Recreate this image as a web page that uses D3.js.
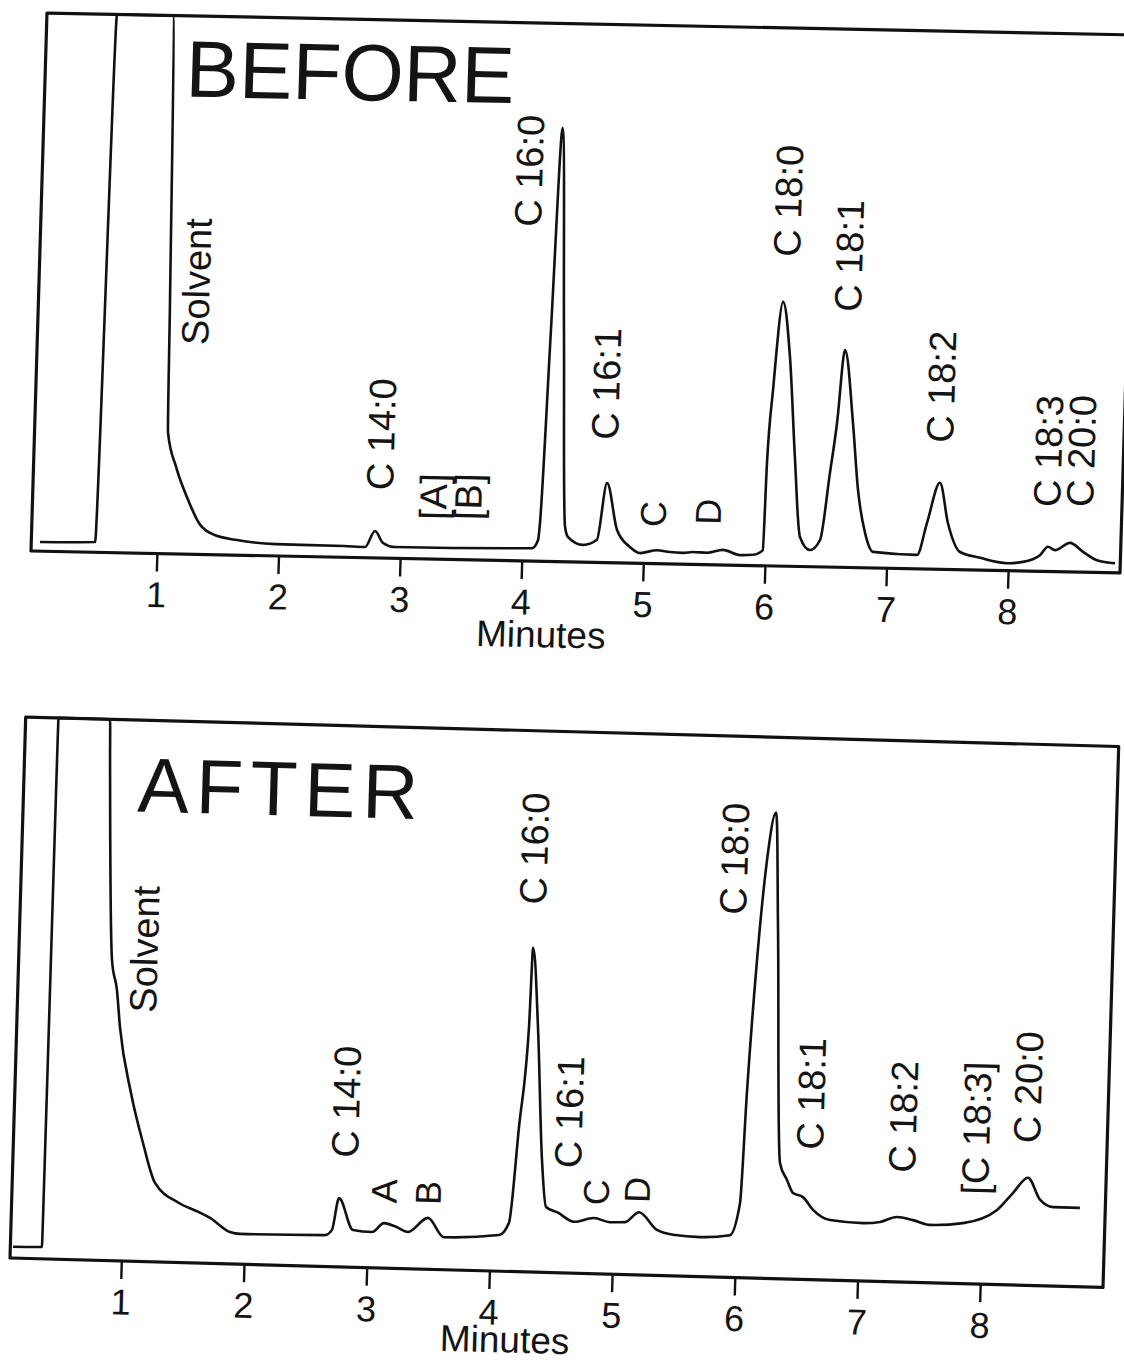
<!DOCTYPE html>
<html>
<head>
<meta charset="utf-8">
<script src="https://cdn.jsdelivr.net/npm/d3@7/dist/d3.min.js"></script>
<style>
  body { margin: 0; background: #fff; }
  text { font-family: "Liberation Sans", Arial, sans-serif; fill: #141414; }
</style>
</head>
<body>
<div id="chart"></div>
<script>
////////////////////////////////////////////////////////////////////////
// Data (time in minutes, signal in % of
// full scale, 100 = pen at top of the chart paper)

let ticks = [1, 2, 3, 4, 5, 6, 7, 8];

let beforeTime = [0.036, 0.49, 0.54, 1.00, 1.046, 1.062, 1.136, 1.243, 1.339, 1.465,
  1.655, 1.976, 2.536, 2.709, 2.787, 2.856, 2.947, 4.081, 4.129, 4.141,
  4.184, 4.23, 4.291, 4.348, 4.375, 4.50, 4.613, 4.682, 4.776, 4.886,
  4.97, 5.109, 5.216, 5.324, 5.405, 5.521, 5.652, 5.793, 5.90, 5.98,
  5.992, 6.024, 6.085, 6.155, 6.22, 6.281, 6.367, 6.447, 6.512, 6.558,
  6.605, 6.689, 6.747, 6.815, 6.885, 7.248, 7.322, 7.418, 7.494, 7.60,
  7.766, 7.989, 8.12, 8.258, 8.322, 8.38, 8.502, 8.611, 8.728, 8.877];
let beforeSignal = [1.7, 1.9, 100, 100, 47.2, 22.5, 16.2, 10.1, 5.8, 3.7,
  2.8, 2.2, 2.1, 2.0, 5.0, 2.8, 2.1, 2.4, 3.9, 7.1,
  43.0, 80.6, 43.1, 6.5, 4.6, 3.2, 4.2, 14.8, 6.1, 3.0,
  1.9, 2.5, 2.2, 2.1, 2.3, 2.2, 2.8, 1.9, 2.0, 2.9,
  19.1, 32.7, 49.1, 38.9, 20.3, 5.5, 3.1, 5.0, 17.5, 26.8,
  40.4, 26.9, 14.4, 6.5, 3.0, 2.6, 8.6, 16.1, 8.6, 3.3,
  2.3, 1.4, 1.7, 3.0, 4.6, 4.0, 5.4, 3.8, 2.3, 1.8];

let afterTime = [0.115, 0.351, 0.36, 0.78, 0.79, 0.853, 0.90, 0.934, 1.039, 1.149,
  1.256, 1.456, 1.621, 1.712, 1.878, 1.96, 2.653, 2.708, 2.758, 2.879,
  3.035, 3.13, 3.229, 3.328, 3.487, 3.622, 4.07, 4.148, 4.207, 4.265,
  4.279, 4.338, 4.402, 4.446, 4.545, 4.677, 4.839, 4.97, 5.093, 5.205,
  5.355, 5.487, 5.707, 5.95, 6.025, 6.055, 6.106, 6.164, 6.226, 6.269,
  6.341, 6.402, 6.454, 6.536, 6.621, 6.762, 7.03, 7.17, 7.306, 7.437,
  7.577, 7.845, 8.12, 8.245, 8.364, 8.467, 8.575, 8.794];
let afterSignal = [2.1, 2.2, 100, 100, 92.5, 55.6, 50.1, 43.2, 31.1, 21.9,
  14.6, 11.0, 9.4, 8.4, 5.9, 5.6, 5.8, 6.8, 12.7, 6.9,
  6.6, 8.3, 7.7, 6.8, 9.5, 6.0, 6.7, 9.0, 26.7, 45.3,
  59.9, 45.3, 20.8, 12.1, 11.1, 9.5, 10.3, 9.6, 9.7, 11.6,
  8.4, 7.6, 7.3, 7.8, 13.8, 34.2, 58.8, 77.3, 86.1, 65.0,
  21.4, 18.3, 15.9, 15.2, 12.9, 11.1, 10.7, 11.0, 12.0, 11.5,
  10.7, 11.2, 13.8, 17.0, 19.9, 15.9, 14.6, 14.6];

// peak labels: text, time under the label, signal level where the text starts
let beforeLabelText = ["Solvent", "C 14:0", "[A]", "[B]", "C 16:0", "C 16:1", "C", "D",
  "C 18:0", "C 18:1", "C 18:2", "C 18:3", "C 20:0"];
let beforeLabelTime = [1.262, 2.818, 3.26, 3.549, 3.97, 4.655, 5.07, 5.522,
  6.106, 6.62, 7.41, 8.305, 8.576];
let beforeLabelLevel = [38.9, 12.6, 7.3, 7.4, 62.1, 22.8, 6.8, 7.4,
  57.5, 47.5, 23.5, 12.0, 12.1];

let afterLabelText = ["Solvent", "C 14:0", "A", "B", "C 16:0", "C 16:1", "C", "D",
  "C 18:0", "C 18:1", "C 18:2", "[C 18:3]", "C 20:0"];
let afterLabelTime = [1.118, 2.797, 3.126, 3.484, 4.269, 4.616, 4.853, 5.186,
  5.9, 6.582, 7.337, 7.936, 8.348];
let afterLabelLevel = [46.0, 20.2, 12.0, 11.9, 67.9, 19.4, 12.7, 13.3,
  67.0, 24.0, 20.2, 16.5, 26.3];

////////////////////////////////////////////////////////////////////////
// svg canvas
let width = 1124;
let height = 1365;

let svg = d3.select("#chart")
  .append("svg")
  .attr("width", width).attr("height", height);

// the scan is slightly skewed, so each panel is drawn in its own frame
// and placed with a small shear matrix
let panels = [
  {
    title: "BEFORE", titleTime: 1.12, titleLevel: 85.0, titleSize: 80, titleSpacing: 0,
    time: beforeTime, signal: beforeSignal,
    labelText: beforeLabelText, labelTime: beforeLabelTime, labelLevel: beforeLabelLevel,
    minutesTime: 4.175, minutesY: 86,
    x0: 31, y0: 551, skewX: 0.0202, skewY: 0.0297,
    w: 1089, h: 538, offset: 4.3, pxPerMin: 121.6
  },
  {
    title: "AFTER", titleTime: 1.022, titleLevel: 83.1, titleSize: 77, titleSpacing: 7,
    time: afterTime, signal: afterSignal,
    labelText: afterLabelText, labelTime: afterLabelTime, labelLevel: afterLabelLevel,
    minutesTime: 4.14, minutesY: 81,
    x0: 10, y0: 1258, skewX: 0.027, skewY: 0.029,
    w: 1093, h: 541, offset: -11.4, pxPerMin: 122.7
  }
];

panels.forEach(drawPanel);

function drawPanel(p) {
  let g = svg.append("g")
    .attr("transform", "matrix(1," + p.skewX + "," + (-p.skewY) + ",1," + p.x0 + "," + p.y0 + ")");

  let xScale = d3.scaleLinear()
    .domain([0, 9])
    .range([p.offset, p.offset + 9 * p.pxPerMin]);
  let yScale = d3.scaleLinear()
    .domain([0, 100])
    .range([0, -p.h]);

  // chart paper frame
  g.append("path")
    .attr("d", "M0,0 V" + (-p.h) + " H" + p.w + " V0 Z")
    .attr("fill", "none")
    .attr("stroke", "#111")
    .attr("stroke-width", 3.2)
    .attr("stroke-linejoin", "round");

  // time axis
  let axis = g.append("g")
    .call(d3.axisBottom(xScale)
      .tickValues(ticks)
      .tickSize(18)
      .tickPadding(10)
      .tickFormat(d3.format("d")));
  axis.select(".domain").remove();
  axis.selectAll(".tick line")
    .attr("stroke", "#111")
    .attr("stroke-width", 2.4);
  axis.selectAll(".tick text")
    .attr("font-size", 36)
    .attr("font-family", "Liberation Sans, Arial, sans-serif")
    .attr("fill", "#141414");

  g.append("text")
    .attr("x", xScale(p.minutesTime))
    .attr("y", p.minutesY)
    .attr("text-anchor", "middle")
    .attr("font-size", 37)
    .text("Minutes");

  // recorder trace
  let pts = p.time.map((t, i) => [t, p.signal[i]]);
  g.append("path")
    .datum(pts)
    .attr("d", d3.line()
      .x(d => xScale(d[0]))
      .y(d => yScale(d[1]))
      .curve(d3.curveMonotoneX))
    .attr("fill", "none")
    .attr("stroke", "#111")
    .attr("stroke-width", 2.6)
    .attr("stroke-linejoin", "round");

  // big title
  g.append("text")
    .attr("x", xScale(p.titleTime))
    .attr("y", yScale(p.titleLevel))
    .attr("font-size", p.titleSize)
    .attr("letter-spacing", p.titleSpacing)
    .text(p.title);

  // vertical peak labels, reading bottom to top
  g.selectAll(".peaklabel")
    .data(p.labelText)
    .enter()
    .append("text")
    .attr("class", "peaklabel")
    .attr("transform", (d, i) => "translate(" + xScale(p.labelTime[i]) + "," + yScale(p.labelLevel[i]) + ") rotate(-90)")
    .attr("dominant-baseline", "central")
    .attr("font-size", d => d.length == 1 ? 36 : 38)
    .text(d => d);
}
</script>
</body>
</html>
